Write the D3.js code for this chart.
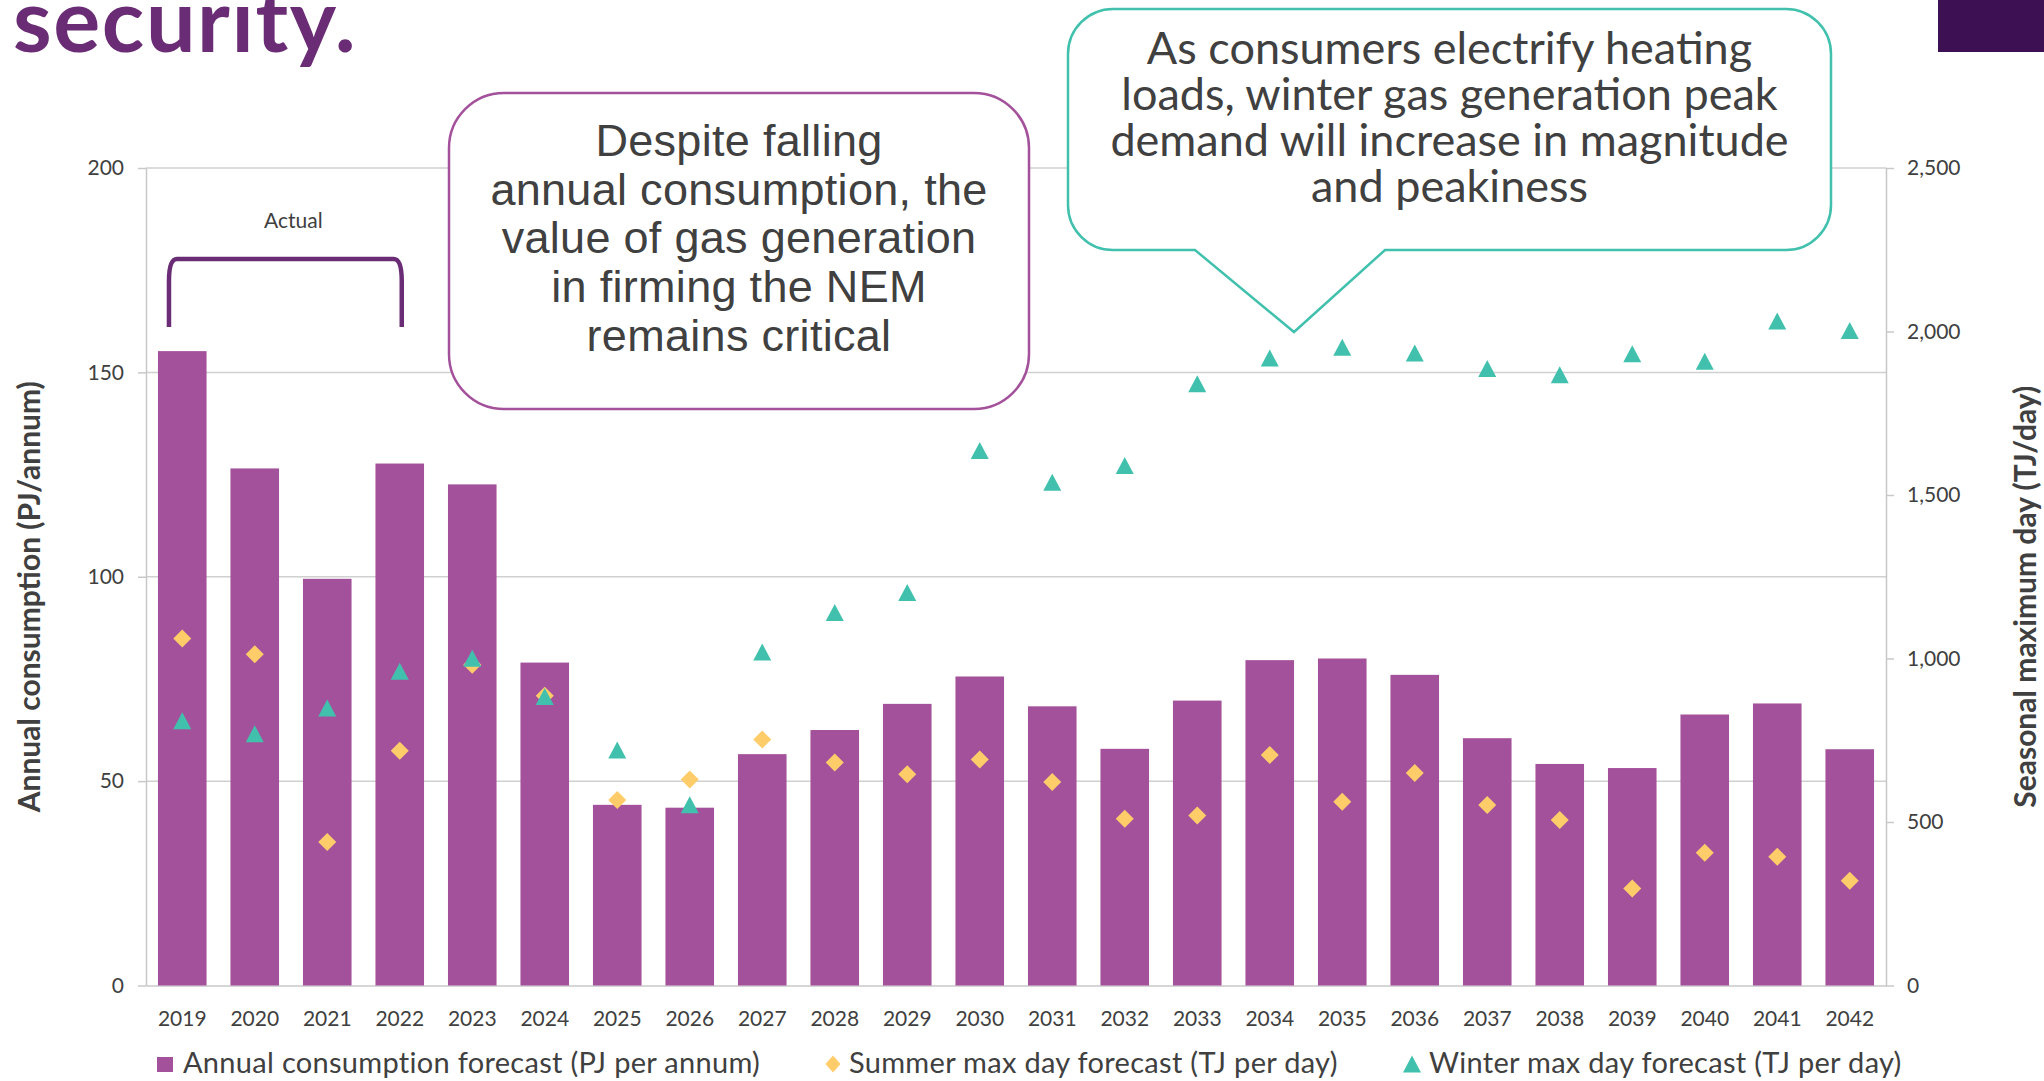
<!DOCTYPE html>
<html>
<head>
<meta charset="utf-8">
<script src="https://cdnjs.cloudflare.com/ajax/libs/d3/7.8.5/d3.min.js"></script>
<style>
  body { margin: 0; background: #fff; }
  svg { display: block; }
  .tick text { font-family: Lato, sans-serif; fill: #404040; }
</style>
</head>
<body>
<div id="chart-area"></div>
<script>
// values
var years = ["2019", "2020", "2021", "2022", "2023", "2024", "2025", "2026", "2027", "2028",
             "2029", "2030", "2031", "2032", "2033", "2034", "2035", "2036", "2037", "2038",
             "2039", "2040", "2041", "2042"];

// PJ per annum (left axis)
var annualConsumption = [155.2, 126.5, 99.5, 127.7, 122.6, 79.0, 44.2, 43.5, 56.6, 62.5,
                         68.9, 75.6, 68.3, 57.9, 69.7, 79.6, 80.0, 76.0, 60.5, 54.2,
                         53.2, 66.3, 69.0, 57.8];

// TJ per day (right axis)
var summerMax = [1061, 1013, 439, 718, 981, 886, 567, 630, 752, 682,
                 646, 691, 622, 510, 520, 705, 562, 650, 552, 506,
                 297, 406, 394, 320];

var winterMax = [810, 770, 849, 961, 1001, 884, 720, 553, 1020, 1141,
                 1202, 1636, 1539, 1590, 1840, 1919, 1952, 1934, 1887, 1868,
                 1932, 1909, 2032, 2003];

var leftTicks = [0, 50, 100, 150, 200];
var rightTicks = [0, 500, 1000, 1500, 2000, 2500];

var legendLabels = ["Annual consumption forecast (PJ per annum)",
                    "Summer max day forecast (TJ per day)",
                    "Winter max day forecast (TJ per day)"];

var callout1Lines = ["Despite falling", "annual consumption, the", "value of gas generation",
                     "in firming the NEM", "remains critical"];
var callout2Lines = ["As consumers electrify heating", "loads, winter gas generation peak",
                     "demand will increase in magnitude", "and peakiness"];

var purple = "#a4519b",
    teal = "#41c1ad",
    yellow = "#fecd6a",
    dark = "#404040",
    grid = "#d0d0d0";

var W = 2044, H = 1081;
var plot = {left: 146, right: 1886, top: 168, bottom: 985.5};

var svg = d3.select("#chart-area")
    .append("svg")
    .attr("width", W)
    .attr("height", H);

var x = d3.scaleBand()
    .domain(years)
    .range([plot.left, plot.right])
    .paddingInner(0.33)
    .paddingOuter(0.165);

var yLeft = d3.scaleLinear().domain([0, 200]).range([plot.bottom, plot.top]);
var yRight = d3.scaleLinear().domain([0, 2500]).range([plot.bottom, plot.top]);

// header bits
svg.append("text")
    .attr("x", 13)
    .attr("y", 52)
    .style("font-family", "Lato, sans-serif")
    .style("font-weight", 700)
    .style("font-size", "88px")
    .style("letter-spacing", "1.6px")
    .style("fill", "#6a2c75")
    .text("security.");

svg.append("rect")
    .attr("x", 1938)
    .attr("y", 0)
    .attr("width", W - 1938)
    .attr("height", 52)
    .style("fill", "#3c1053");

// gridlines
svg.append("g")
    .selectAll("line")
    .data(leftTicks.slice(1))
    .enter().append("line")
    .attr("x1", plot.left)
    .attr("x2", plot.right)
    .attr("y1", function(d) { return yLeft(d); })
    .attr("y2", function(d) { return yLeft(d); })
    .style("stroke", grid)
    .style("stroke-width", 1.5);

// axes
var leftAxis = svg.append("g")
    .attr("transform", "translate(" + plot.left + ",0)")
    .call(d3.axisLeft(yLeft).tickValues(leftTicks).tickSize(8).tickSizeOuter(0).tickPadding(14));

var rightAxis = svg.append("g")
    .attr("transform", "translate(" + plot.right + ",0)")
    .call(d3.axisRight(yRight).tickValues(rightTicks).tickFormat(d3.format(","))
        .tickSize(8).tickSizeOuter(0).tickPadding(13));

var bottomAxis = svg.append("g")
    .attr("transform", "translate(0," + plot.bottom + ")")
    .call(d3.axisBottom(x).tickSize(0).tickSizeOuter(0));

[leftAxis, rightAxis, bottomAxis].forEach(function(a) {
    a.select(".domain").style("stroke", "#c8c8c8").style("stroke-width", 1.5);
    a.selectAll(".tick line").style("stroke", "#c8c8c8").style("stroke-width", 1.5);
    a.selectAll(".tick text").style("font-size", "21px");
});

bottomAxis.selectAll(".tick text")
    .attr("y", 40)
    .attr("dy", 0);

// bars
svg.append("g")
    .selectAll("rect")
    .data(annualConsumption)
    .enter().append("rect")
    .attr("x", function(d, i) { return x(years[i]); })
    .attr("y", function(d) { return yLeft(d); })
    .attr("width", x.bandwidth())
    .attr("height", function(d) { return plot.bottom - yLeft(d); })
    .style("fill", purple);

// marker shapes, centred on the point
function diamond(w, h) {
    return "M0," + (-h / 2) + "L" + (w / 2) + ",0L0," + (h / 2) + "L" + (-w / 2) + ",0Z";
}
function triangle(w, h) {
    return "M0," + (-h / 2) + "L" + (w / 2) + "," + (h / 2) + "L" + (-w / 2) + "," + (h / 2) + "Z";
}

var cx = function(i) { return x(years[i]) + x.bandwidth() / 2; };

svg.append("g")
    .selectAll("path")
    .data(summerMax)
    .enter().append("path")
    .attr("d", diamond(18, 18))
    .attr("transform", function(d, i) { return "translate(" + cx(i) + "," + yRight(d) + ")"; })
    .style("fill", yellow);

svg.append("g")
    .selectAll("path")
    .data(winterMax)
    .enter().append("path")
    .attr("d", triangle(18, 17))
    .attr("transform", function(d, i) { return "translate(" + cx(i) + "," + yRight(d) + ")"; })
    .style("fill", teal);

// "Actual" bracket over the first years
var bx1 = x("2019") + 11,
    bx2 = x("2022") + x.bandwidth() / 2 + 2,
    byTop = 259,
    byBot = 327;

svg.append("path")
    .attr("d", "M" + bx1 + "," + byBot + "L" + bx1 + "," + (byTop + 22) +
        "Q" + bx1 + "," + byTop + " " + (bx1 + 8) + "," + byTop +
        "L" + (bx2 - 8) + "," + byTop +
        "Q" + bx2 + "," + byTop + " " + bx2 + "," + (byTop + 22) +
        "L" + bx2 + "," + byBot)
    .style("fill", "none")
    .style("stroke", "#6a2c75")
    .style("stroke-width", 4.5);

svg.append("text")
    .attr("x", (bx1 + bx2) / 2 + 8)
    .attr("y", 228)
    .attr("text-anchor", "middle")
    .style("font-family", "Lato, sans-serif")
    .style("font-size", "21px")
    .style("fill", dark)
    .text("Actual");

// axis titles
svg.append("text")
    .attr("transform", "translate(40," + ((plot.top + plot.bottom) / 2 + 20) + ") rotate(-90)")
    .attr("text-anchor", "middle")
    .style("font-family", "Lato, sans-serif")
    .style("font-weight", 700)
    .style("font-size", "30px")
    .style("fill", dark)
    .text("Annual consumption (PJ/annum)");

svg.append("text")
    .attr("transform", "translate(2036," + ((plot.top + plot.bottom) / 2 + 20) + ") rotate(-90)")
    .attr("text-anchor", "middle")
    .style("font-family", "Lato, sans-serif")
    .style("font-weight", 700)
    .style("font-size", "30px")
    .style("fill", dark)
    .text("Seasonal maximum day (TJ/day)");

// callout 1: rounded box
svg.append("rect")
    .attr("x", 449)
    .attr("y", 93)
    .attr("width", 580)
    .attr("height", 316)
    .attr("rx", 55)
    .style("fill", "#fff")
    .style("stroke", purple)
    .style("stroke-width", 2.5);

svg.append("g")
    .selectAll("text")
    .data(callout1Lines)
    .enter().append("text")
    .attr("x", 739)
    .attr("y", function(d, i) { return 156 + i * 48.7; })
    .attr("text-anchor", "middle")
    .style("font-family", "'Liberation Sans', Arial, sans-serif")
    .style("font-size", "45px")
    .style("letter-spacing", "0.3px")
    .style("fill", dark)
    .text(function(d) { return d; });

// callout 2: rounded box with a pointer down to the winter peaks
var c2 = {x1: 1068, x2: 1831, y1: 9, y2: 250, r: 45, p1: 1195, p2: 1385, tipX: 1294, tipY: 332};
var c2path = d3.path();
c2path.moveTo(c2.x1 + c2.r, c2.y1);
c2path.lineTo(c2.x2 - c2.r, c2.y1);
c2path.arcTo(c2.x2, c2.y1, c2.x2, c2.y1 + c2.r, c2.r);
c2path.lineTo(c2.x2, c2.y2 - c2.r);
c2path.arcTo(c2.x2, c2.y2, c2.x2 - c2.r, c2.y2, c2.r);
c2path.lineTo(c2.p2, c2.y2);
c2path.lineTo(c2.tipX, c2.tipY);
c2path.lineTo(c2.p1, c2.y2);
c2path.lineTo(c2.x1 + c2.r, c2.y2);
c2path.arcTo(c2.x1, c2.y2, c2.x1, c2.y2 - c2.r, c2.r);
c2path.lineTo(c2.x1, c2.y1 + c2.r);
c2path.arcTo(c2.x1, c2.y1, c2.x1 + c2.r, c2.y1, c2.r);
c2path.closePath();

svg.append("path")
    .attr("d", c2path.toString())
    .style("fill", "#fff")
    .style("stroke", teal)
    .style("stroke-width", 2.5);

svg.append("g")
    .selectAll("text")
    .data(callout2Lines)
    .enter().append("text")
    .attr("x", (c2.x1 + c2.x2) / 2)
    .attr("y", function(d, i) { return 64 + i * 46; })
    .attr("text-anchor", "middle")
    .style("font-family", "Lato, sans-serif")
    .style("font-size", "45px")
    .style("fill", dark)
    .text(function(d) { return d; });

// legend
var legendX = [157, 825, 1403];
var legend = svg.selectAll("g.legend")
    .data(legendLabels)
    .enter().append("g")
    .attr("class", "legend")
    .attr("transform", function(d, i) { return "translate(" + legendX[i] + ",1064)"; });

legend.each(function(d, i) {
    var g = d3.select(this);
    if (i === 0) {
        g.append("rect").attr("x", 0).attr("y", -7).attr("width", 16).attr("height", 15).style("fill", purple);
    } else if (i === 1) {
        g.append("path").attr("d", diamond(15, 17)).attr("transform", "translate(8,0)").style("fill", yellow);
    } else {
        g.append("path").attr("d", triangle(18, 17)).attr("transform", "translate(9,0)").style("fill", teal);
    }
});

legend.append("text")
    .attr("x", function(d, i) { return [26, 24, 26][i]; })
    .attr("y", 9)
    .style("font-family", "Lato, sans-serif")
    .style("font-size", "29px")
    .style("letter-spacing", "0.3px")
    .style("fill", dark)
    .text(function(d) { return d; });
</script>
</body>
</html>
